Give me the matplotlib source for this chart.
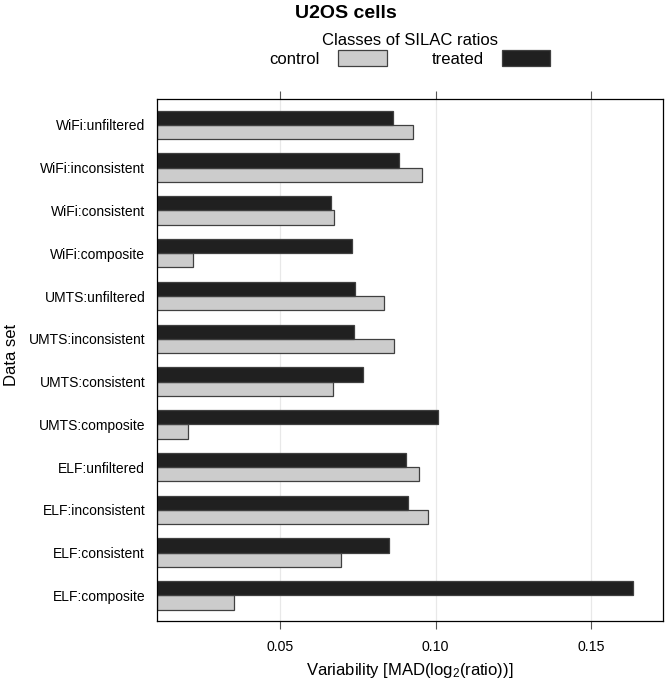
import numpy as np
import matplotlib
matplotlib.use('Agg')
import matplotlib.pyplot as plt

plt.rcParams['font.family'] = ['Liberation Sans', 'DejaVu Sans']
plt.rcParams['mathtext.default'] = 'regular'

# data, listed top to bottom as in the chart
datasets = ['WiFi:unfiltered', 'WiFi:inconsistent', 'WiFi:consistent', 'WiFi:composite',
            'UMTS:unfiltered', 'UMTS:inconsistent', 'UMTS:consistent', 'UMTS:composite',
            'ELF:unfiltered', 'ELF:inconsistent', 'ELF:consistent', 'ELF:composite']
control = [0.0929, 0.0956, 0.0675, 0.0220,
           0.0835, 0.0866, 0.0669, 0.0205,
           0.0948, 0.0977, 0.0697, 0.0353]
treated = [0.0864, 0.0882, 0.0665, 0.0732,
           0.0742, 0.0737, 0.0767, 0.1008,
           0.0905, 0.0912, 0.0850, 0.1634]
xticks = [0.05, 0.10, 0.15]

xmin, xmax = 0.0104, 0.1733
n = len(datasets)
pos = n - np.arange(n)
bw = 1 / 3

fig = plt.figure(figsize=(6.67, 6.83), dpi=100)
ax = fig.add_axes([0.2354, 0.0908, 0.9945 - 0.2354, 0.8546 - 0.0908])

for x in xticks:
    ax.axvline(x, color='#e8e8e8', lw=0.9, zorder=0)

c = np.array(control) - xmin
t = np.array(treated) - xmin
ax.barh(pos - bw / 2, c, height=bw, left=xmin, color='#cccccc',
        edgecolor='#404040', lw=0.9, label='control', zorder=2)
ax.barh(pos + bw / 2, t, height=bw, left=xmin, color='#202020',
        edgecolor='#404040', lw=0.9, label='treated', zorder=2)

ax.set_xlim(xmin, xmax)
ax.set_ylim(0.4, n + 0.6)
ax.set_yticks(pos)
ax.set_yticklabels(datasets, fontsize=10)
ax.set_xticks(xticks)
ax.set_xticklabels(['0.05', '0.10', '0.15'], fontsize=10.2)
ax.tick_params(axis='y', length=0, pad=8.5)
ax.tick_params(axis='x', direction='out', length=6, width=0.8, color='#555555',
               top=True, pad=8)
for s in ax.spines.values():
    s.set_linewidth(0.9)
    s.set_color('black')

ax.set_xlabel(r'Variability [MAD(log$_2$(ratio))]', fontsize=12, labelpad=5)
ax.set_ylabel('Data set', fontsize=12)
ax.yaxis.set_label_coords(-0.2720, 0.51)

fig.text(346 / 667, 1 - 13 / 683, 'U2OS cells', ha='center', va='center',
         fontsize=14, fontweight='bold')

leg = fig.legend(loc='center', bbox_to_anchor=(410 / 667, 1 - 50 / 683), ncol=2,
                 frameon=False, title='Classes of SILAC ratios', title_fontsize=12,
                 fontsize=12, markerfirst=False, handlelength=2.9, handleheight=1.15,
                 columnspacing=2.7, handletextpad=1.1, labelspacing=0.2)
leg._legend_box.sep = 1

fig.savefig('out.png', dpi=100)
